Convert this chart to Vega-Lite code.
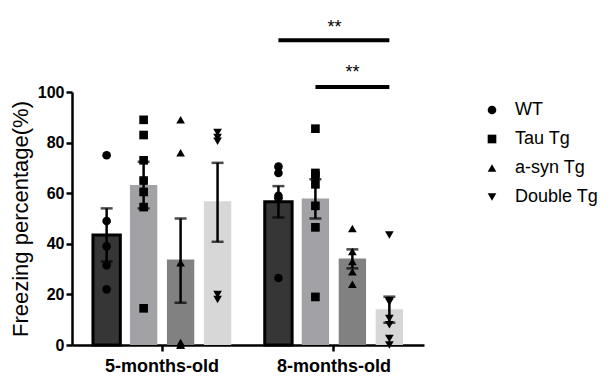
{
  "$schema": "https://vega.github.io/schema/vega-lite/v6.json",
  "width": 352,
  "height": 253,
  "autosize": {"type": "none"},
  "padding": {"left": 72, "top": 92, "right": 186, "bottom": 38},
  "background": "white",
  "config": {
    "view": {"stroke": null},
    "font": "Liberation Sans",
    "axis": {"grid": false, "domainColor": "black", "tickColor": "black", "labelColor": "black", "titleColor": "black"}
  },
  "datasets": {
    "bars": [
      {"group": "5-months-old", "genotype": "WT", "mean": 43.5, "lo": 33, "hi": 54},
      {"group": "5-months-old", "genotype": "Tau Tg", "mean": 63.2, "lo": 54, "hi": 72.4},
      {"group": "5-months-old", "genotype": "a-syn Tg", "mean": 33.8, "lo": 16.7, "hi": 50},
      {"group": "5-months-old", "genotype": "Double Tg", "mean": 56.8, "lo": 40.8, "hi": 72},
      {"group": "8-months-old", "genotype": "WT", "mean": 56.6, "lo": 50.4, "hi": 62.8},
      {"group": "8-months-old", "genotype": "Tau Tg", "mean": 57.9, "lo": 50, "hi": 65.5},
      {"group": "8-months-old", "genotype": "a-syn Tg", "mean": 34.2, "lo": 30.3, "hi": 37.8},
      {"group": "8-months-old", "genotype": "Double Tg", "mean": 14.1, "lo": 8.8, "hi": 19.1}
    ],
    "points": [
      {"group": "5-months-old", "genotype": "WT", "value": 75},
      {"group": "5-months-old", "genotype": "WT", "value": 49},
      {"group": "5-months-old", "genotype": "WT", "value": 39},
      {"group": "5-months-old", "genotype": "WT", "value": 31.5},
      {"group": "5-months-old", "genotype": "WT", "value": 22},
      {"group": "5-months-old", "genotype": "Tau Tg", "value": 89},
      {"group": "5-months-old", "genotype": "Tau Tg", "value": 83},
      {"group": "5-months-old", "genotype": "Tau Tg", "value": 73},
      {"group": "5-months-old", "genotype": "Tau Tg", "value": 65},
      {"group": "5-months-old", "genotype": "Tau Tg", "value": 60.5},
      {"group": "5-months-old", "genotype": "Tau Tg", "value": 54.5},
      {"group": "5-months-old", "genotype": "Tau Tg", "value": 14.5},
      {"group": "5-months-old", "genotype": "a-syn Tg", "value": 89},
      {"group": "5-months-old", "genotype": "a-syn Tg", "value": 76},
      {"group": "5-months-old", "genotype": "a-syn Tg", "value": 32.5},
      {"group": "5-months-old", "genotype": "a-syn Tg", "value": 1},
      {"group": "5-months-old", "genotype": "a-syn Tg", "value": 0},
      {"group": "5-months-old", "genotype": "a-syn Tg", "value": 0},
      {"group": "5-months-old", "genotype": "Double Tg", "value": 84},
      {"group": "5-months-old", "genotype": "Double Tg", "value": 82},
      {"group": "5-months-old", "genotype": "Double Tg", "value": 80.5},
      {"group": "5-months-old", "genotype": "Double Tg", "value": 20},
      {"group": "5-months-old", "genotype": "Double Tg", "value": 18},
      {"group": "8-months-old", "genotype": "WT", "value": 70.5},
      {"group": "8-months-old", "genotype": "WT", "value": 68},
      {"group": "8-months-old", "genotype": "WT", "value": 59},
      {"group": "8-months-old", "genotype": "WT", "value": 58},
      {"group": "8-months-old", "genotype": "WT", "value": 26.5},
      {"group": "8-months-old", "genotype": "Tau Tg", "value": 85.5},
      {"group": "8-months-old", "genotype": "Tau Tg", "value": 68},
      {"group": "8-months-old", "genotype": "Tau Tg", "value": 67},
      {"group": "8-months-old", "genotype": "Tau Tg", "value": 63.5},
      {"group": "8-months-old", "genotype": "Tau Tg", "value": 55},
      {"group": "8-months-old", "genotype": "Tau Tg", "value": 46.5},
      {"group": "8-months-old", "genotype": "Tau Tg", "value": 19},
      {"group": "8-months-old", "genotype": "a-syn Tg", "value": 46},
      {"group": "8-months-old", "genotype": "a-syn Tg", "value": 37},
      {"group": "8-months-old", "genotype": "a-syn Tg", "value": 33},
      {"group": "8-months-old", "genotype": "a-syn Tg", "value": 29},
      {"group": "8-months-old", "genotype": "a-syn Tg", "value": 24},
      {"group": "8-months-old", "genotype": "Double Tg", "value": 43.5},
      {"group": "8-months-old", "genotype": "Double Tg", "value": 17.5},
      {"group": "8-months-old", "genotype": "Double Tg", "value": 17},
      {"group": "8-months-old", "genotype": "Double Tg", "value": 10.5},
      {"group": "8-months-old", "genotype": "Double Tg", "value": 8},
      {"group": "8-months-old", "genotype": "Double Tg", "value": 2.6},
      {"group": "8-months-old", "genotype": "Double Tg", "value": 0}
    ],
    "sig": [
      {"comparison": "WT vs Double Tg", "group": "8-months-old", "genotype": "WT", "y": 120.5},
      {"comparison": "WT vs Double Tg", "group": "8-months-old", "genotype": "Double Tg", "y": 120.5},
      {"comparison": "Tau Tg vs Double Tg", "group": "8-months-old", "genotype": "Tau Tg", "y": 102},
      {"comparison": "Tau Tg vs Double Tg", "group": "8-months-old", "genotype": "Double Tg", "y": 102}
    ],
    "stars": [
      {"comparison": "WT vs Double Tg", "group": "8-months-old", "genotype": "Tau Tg", "y": 123.2, "label": "**"},
      {"comparison": "Tau Tg vs Double Tg", "group": "8-months-old", "genotype": "a-syn Tg", "y": 105.5, "label": "**"}
    ]
  },
  "resolve": {"legend": {"fill": "independent", "shape": "independent"}},
  "encoding": {
    "x": {
      "field": "group", "type": "nominal",
      "scale": {"domain": ["5-months-old", "8-months-old"], "paddingInner": 0.195, "paddingOuter": 0.122},
      "axis": {"title": null, "labelAngle": 0, "labelFontSize": 18, "labelFontWeight": "bold", "labelPadding": 6, "domainWidth": 2.5, "tickWidth": 2.5, "tickSize": 6}
    },
    "xOffset": {
      "field": "genotype", "type": "nominal",
      "scale": {"domain": ["WT", "Tau Tg", "a-syn Tg", "Double Tg"], "paddingInner": 0.26, "paddingOuter": 0}
    }
  },
  "layer": [
    {
      "data": {"name": "bars"},
      "mark": {"type": "bar", "strokeWidth": 3},
      "encoding": {
        "y": {
          "field": "mean", "type": "quantitative",
          "scale": {"domain": [0, 100]},
          "axis": {"title": "Freezing percentage(%)", "titleFontSize": 22, "titleFontWeight": "normal", "titlePadding": 5, "values": [0, 20, 40, 60, 80, 100], "labelFontSize": 16, "labelFontWeight": "bold", "labelPadding": 2, "domainWidth": 2.5, "tickWidth": 2.5, "tickSize": 6}
        },
        "fill": {
          "field": "genotype", "type": "nominal",
          "scale": {"domain": ["WT", "Tau Tg", "a-syn Tg", "Double Tg"], "range": ["#363636", "#a2a2a6", "#818181", "#d7d7d7"]},
          "legend": null
        },
        "stroke": {"condition": {"test": "datum.genotype === 'WT'", "value": "black"}, "value": null}
      }
    },
    {
      "data": {"name": "points"},
      "mark": {"type": "point", "filled": true, "opacity": 1, "size": 75, "color": "black"},
      "encoding": {
        "y": {"field": "value", "type": "quantitative"},
        "shape": {
          "field": "genotype", "type": "nominal",
          "scale": {"domain": ["WT", "Tau Tg", "a-syn Tg", "Double Tg"], "range": ["circle", "square", "triangle-up", "triangle-down"]},
          "legend": {"title": null, "orient": "none", "legendX": 411, "legendY": 9, "padding": 0, "labelFontSize": 18, "labelOffset": 14, "rowPadding": 11, "symbolSize": 75, "symbolFillColor": "black", "symbolStrokeColor": "black", "labelColor": "black"}
        }
      }
    },
    {
      "data": {"name": "bars"},
      "mark": {"type": "rule", "color": "black", "strokeWidth": 2.5},
      "encoding": {
        "y": {"field": "lo", "type": "quantitative"},
        "y2": {"field": "hi"}
      }
    },
    {
      "data": {"name": "bars"},
      "mark": {"type": "tick", "color": "black", "thickness": 2.5, "size": 12, "orient": "horizontal"},
      "encoding": {"y": {"field": "hi", "type": "quantitative"}}
    },
    {
      "data": {"name": "bars"},
      "mark": {"type": "tick", "color": "black", "thickness": 2.5, "size": 12, "orient": "horizontal"},
      "encoding": {"y": {"field": "lo", "type": "quantitative"}}
    },
    {
      "data": {"name": "sig"},
      "mark": {"type": "line", "color": "black", "strokeWidth": 4, "clip": false},
      "encoding": {
        "y": {"field": "y", "type": "quantitative"},
        "detail": {"field": "comparison"}
      }
    },
    {
      "data": {"name": "stars"},
      "transform": [{"filter": "datum.comparison === 'WT vs Double Tg'"}],
      "mark": {"type": "text", "fontSize": 18, "color": "black", "dx": 19, "baseline": "alphabetic"},
      "encoding": {
        "y": {"field": "y", "type": "quantitative"},
        "text": {"field": "label"}
      }
    },
    {
      "data": {"name": "stars"},
      "transform": [{"filter": "datum.comparison === 'Tau Tg vs Double Tg'"}],
      "mark": {"type": "text", "fontSize": 18, "color": "black", "baseline": "alphabetic"},
      "encoding": {
        "y": {"field": "y", "type": "quantitative"},
        "text": {"field": "label"}
      }
    }
  ]
}
